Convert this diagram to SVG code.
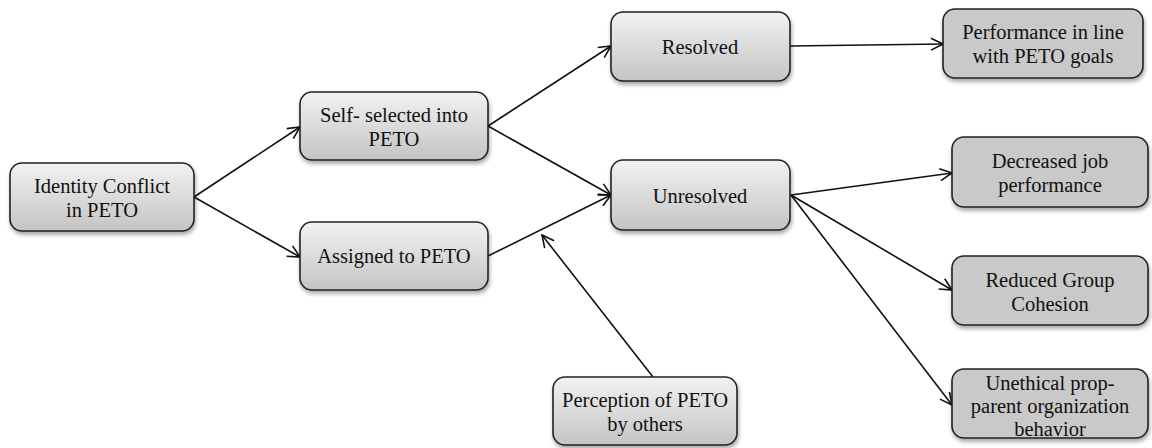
<svg xmlns="http://www.w3.org/2000/svg" width="1152" height="448" viewBox="0 0 1152 448">
<defs>
<linearGradient id="g1" x1="0" y1="0" x2="0" y2="1">
<stop offset="0" stop-color="#f2f2f2"/>
<stop offset="1" stop-color="#c4c4c4"/>
</linearGradient>
<filter id="sh" x="-10%" y="-10%" width="125%" height="130%">
<feGaussianBlur in="SourceAlpha" stdDeviation="2"/>
<feOffset dx="1" dy="3"/>
<feComponentTransfer><feFuncA type="linear" slope="0.35"/></feComponentTransfer>
<feMerge><feMergeNode/><feMergeNode in="SourceGraphic"/></feMerge>
</filter>
<marker id="arr" viewBox="0 0 14 14" refX="13" refY="7" markerWidth="14" markerHeight="14" markerUnits="userSpaceOnUse" orient="auto">
<path d="M1,1 L13,7 L1,13" fill="none" stroke="#111" stroke-width="1.6"/>
</marker>
</defs>
<style>
.box{stroke:#222;stroke-width:1.6;filter:url(#sh)}
.gr{fill:url(#g1)}
.fl{fill:#c9c9c9}
text{font-family:"Liberation Serif","DejaVu Serif",serif;font-size:20.5px;fill:#111;text-anchor:middle}
.c{stroke:#111;stroke-width:1.6;fill:none;marker-end:url(#arr)}
</style>
<g id="connectors">
<line class="c" x1="194" y1="197" x2="300" y2="127"/>
<line class="c" x1="194" y1="197" x2="300" y2="257"/>
<line class="c" x1="488" y1="126" x2="611" y2="46"/>
<line class="c" x1="488" y1="126" x2="611" y2="195"/>
<line class="c" x1="488" y1="256" x2="611" y2="195"/>
<line class="c" x1="653" y1="377" x2="542" y2="235"/>
<line class="c" x1="790" y1="46" x2="943" y2="44"/>
<line class="c" x1="791" y1="195" x2="952" y2="173"/>
<line class="c" x1="791" y1="195" x2="952" y2="290"/>
<line class="c" x1="791" y1="195" x2="952" y2="405"/>
</g>
<g id="identity">
<rect class="box gr" x="10" y="163" width="184" height="68" rx="12"/>
<text x="102" y="193">Identity Conflict</text>
<text x="102" y="217">in PETO</text>
</g>
<g id="selfselected">
<rect class="box gr" x="300" y="92" width="188" height="68" rx="12"/>
<text x="394" y="122">Self- selected into</text>
<text x="394" y="146">PETO</text>
</g>
<g id="assigned">
<rect class="box gr" x="300" y="222" width="188" height="68" rx="12"/>
<text x="394" y="263">Assigned to PETO</text>
</g>
<g id="resolved">
<rect class="box gr" x="611" y="12" width="179" height="69" rx="12"/>
<text x="700" y="54">Resolved</text>
</g>
<g id="unresolved">
<rect class="box gr" x="611" y="160" width="179" height="70" rx="12"/>
<text x="700" y="203">Unresolved</text>
</g>
<g id="perception">
<rect class="box gr" x="553" y="377" width="184" height="68" rx="12"/>
<text x="645" y="407">Perception of PETO</text>
<text x="645" y="431">by others</text>
</g>
<g id="performance">
<rect class="box fl" x="943" y="9" width="200" height="69" rx="12"/>
<text x="1043" y="39">Performance in line</text>
<text x="1043" y="63">with PETO goals</text>
</g>
<g id="decreased">
<rect class="box fl" x="952" y="137" width="196" height="70" rx="12"/>
<text x="1050" y="168">Decreased job</text>
<text x="1050" y="192">performance</text>
</g>
<g id="reduced">
<rect class="box fl" x="952" y="256" width="196" height="69" rx="12"/>
<text x="1050" y="287">Reduced Group</text>
<text x="1050" y="311">Cohesion</text>
</g>
<g id="unethical">
<rect class="box fl" x="952" y="369" width="196" height="69" rx="12"/>
<text x="1050" y="390">Unethical prop-</text>
<text x="1050" y="413">parent organization</text>
<text x="1050" y="436">behavior</text>
</g>
</svg>
